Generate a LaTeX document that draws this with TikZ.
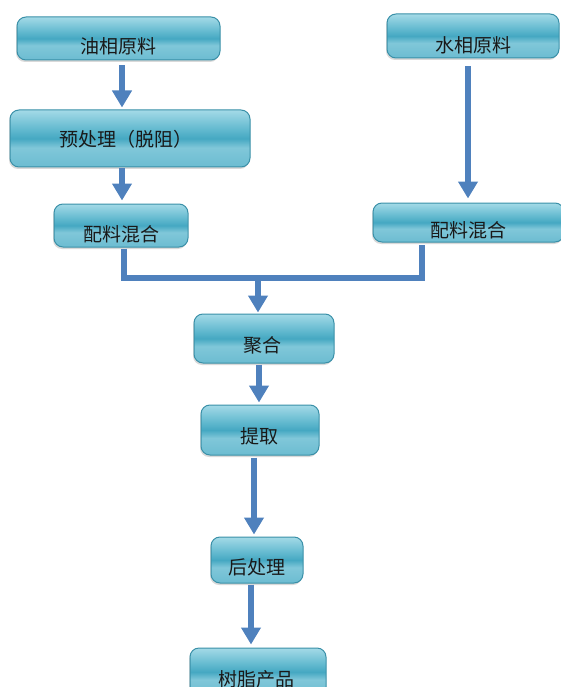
\documentclass[tikz,border=0pt]{standalone}
\usepackage{fontspec}
\newfontfamily\cjk{Noto Sans CJK SC}
\usetikzlibrary{arrows.meta,shadows}
\definecolor{arrowblue}{HTML}{4F81BD}
\definecolor{boxedge}{HTML}{3A90A8}
\definecolor{shtop}{HTML}{A4DAE7}
\definecolor{shmid}{HTML}{62B9CF}
\definecolor{shband}{HTML}{45A8C2}
\definecolor{shlow}{HTML}{80C7D9}
\definecolor{shbot}{HTML}{6CBCD1}
\pgfdeclareverticalshading{boxshade}{100bp}{color(0bp)=(shbot); color(25bp)=(shbot); color(42bp)=(shlow); color(50bp)=(shband); color(58bp)=(shmid); color(75bp)=(shtop); color(100bp)=(shtop)}
\tikzset{
  box/.style={draw=boxedge, line width=1pt, rounded corners=9pt, shading=boxshade,
    drop shadow={shadow xshift=-1pt, shadow yshift=-2pt, opacity=0.3}, inner sep=0pt},
  lbl/.style={font=\cjk\fontsize{19}{19}\selectfont, text=black!90, inner sep=0pt},
  arr/.style={draw=arrowblue, line width=6pt, -{Triangle[width=19pt,length=17pt]}},
  link/.style={draw=arrowblue, line width=6pt, line join=miter}
}
\begin{document}
\begin{tikzpicture}[x=1pt,y=-1pt]
\useasboundingbox (0,0) rectangle (561,687);
\clip (0,0) rectangle (561,687);
\node[box, minimum width=203pt, minimum height=43pt, label={[lbl,yshift=-8pt]center:油相原料}] (oil) at (118.5,38.5) {};
\node[box, minimum width=172pt, minimum height=44pt, label={[lbl,yshift=-9pt]center:水相原料}] (water) at (473,36) {};
\node[box, minimum width=240pt, minimum height=57pt, label={[lbl,yshift=-1pt,xshift=-4pt]center:预处理（脱阻）}] (pre) at (130,138.5) {};
\node[box, minimum width=134pt, minimum height=43pt, label={[lbl,yshift=-9pt]center:配料混合}] (mixL) at (121,225.5) {};
\node[box, minimum width=191pt, minimum height=39pt, label={[lbl,yshift=-8pt]center:配料混合}] (mixR) at (468.5,222.5) {};
\node[box, minimum width=140pt, minimum height=49pt, label={[lbl,yshift=-7pt,xshift=-2pt]center:聚合}] (poly) at (264,338.5) {};
\node[box, minimum width=118pt, minimum height=50pt, label={[lbl,yshift=-6pt,xshift=-1pt]center:提取}] (extract) at (260,430) {};
\node[box, minimum width=92pt, minimum height=46pt, label={[lbl,yshift=-7.5pt]center:后处理}] (post) at (257,560) {};
\node[box, minimum width=136pt, minimum height=48pt, label={[lbl,yshift=-7pt,xshift=-2pt]center:树脂产品}] (product) at (258,672) {};
\coordinate (junction) at (258,278);
\draw[arr] ([xshift=3.5pt,yshift=-5pt]oil.south) -- ([xshift=-8pt,yshift=2pt]pre.north);
\draw[arr] ([xshift=-8pt,yshift=-1pt]pre.south) -- ([xshift=1pt,yshift=3pt]mixL.north);
\draw[arr] ([xshift=-5pt,yshift=-8pt]water.south) -- ([xshift=-0.5pt,yshift=4pt]mixR.north);
\draw[link] ([xshift=2.5pt,yshift=-1pt]mixL.south) |- (junction) -| ([xshift=-46.5pt,yshift=-2pt]mixR.south);
\draw[arr] (junction) -- ([xshift=-6pt,yshift=1pt]poly.north);
\draw[arr] ([xshift=-5pt,yshift=-1pt]poly.south) -- ([xshift=-1pt,yshift=2pt]extract.north);
\draw[arr] ([xshift=-6pt,yshift=-2pt]extract.south) -- ([xshift=-3pt,yshift=2pt]post.north);
\draw[arr] ([xshift=-6pt,yshift=-1pt]post.south) -- ([xshift=-7pt,yshift=3pt]product.north);
\end{tikzpicture}
\end{document}
